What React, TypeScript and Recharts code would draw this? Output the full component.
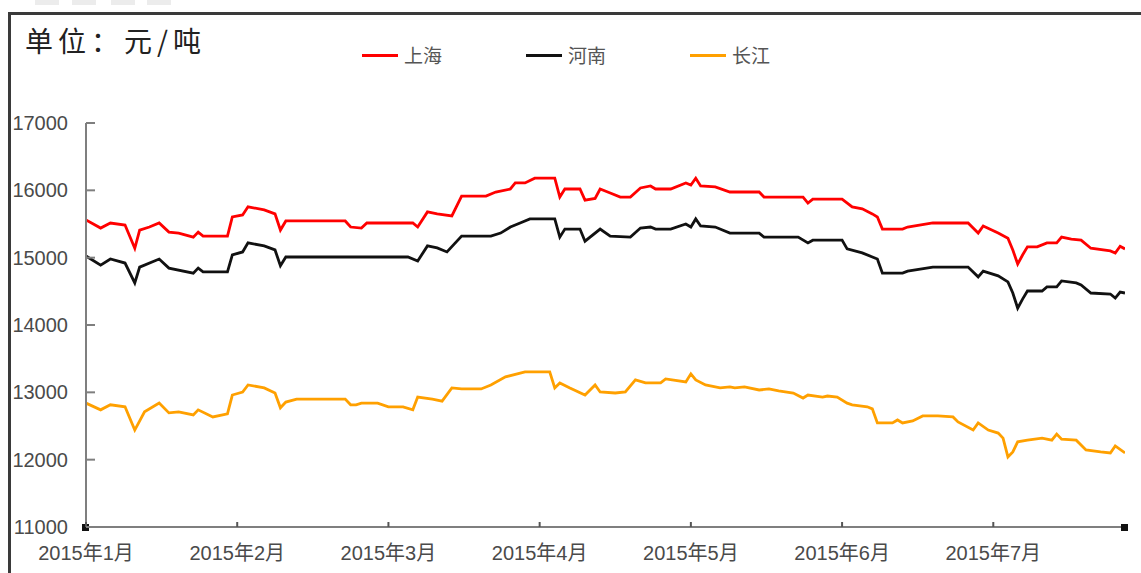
import React from 'react';
import { LineChart, Line, XAxis, YAxis, ReferenceDot } from 'recharts';

// 日期为 "月/日"，值为 元/吨
const shanghai: [string, number][] = [
  ['1/1', 15560], ['1/4', 15440], ['1/6', 15515], ['1/9', 15485], ['1/11', 15140], ['1/12', 15410],
  ['1/14', 15455], ['1/16', 15515], ['1/18', 15380], ['1/20', 15365], ['1/23', 15305], ['1/24', 15380],
  ['1/25', 15320], ['1/30', 15320], ['1/31', 15605], ['2/2', 15635], ['2/3', 15755], ['2/6', 15710],
  ['2/8', 15650], ['2/9', 15410], ['2/10', 15545], ['2/21', 15545], ['2/22', 15455], ['2/24', 15440],
  ['2/25', 15515], ['3/6', 15515], ['3/7', 15455], ['3/9', 15680], ['3/11', 15650], ['3/14', 15620],
  ['3/16', 15915], ['3/21', 15915], ['3/23', 15975], ['3/26', 16020], ['3/27', 16110], ['3/29', 16110],
  ['3/31', 16180], ['4/4', 16180], ['4/5', 15900], ['4/6', 16020], ['4/9', 16020], ['4/10', 15855],
  ['4/12', 15880], ['4/13', 16020], ['4/15', 15960], ['4/17', 15900], ['4/19', 15900], ['4/21', 16035],
  ['4/23', 16065], ['4/24', 16020], ['4/27', 16020], ['4/30', 16110], ['5/1', 16080], ['5/2', 16180],
  ['5/3', 16065], ['5/6', 16050], ['5/9', 15975], ['5/15', 15975], ['5/16', 15900], ['5/24', 15900],
  ['5/25', 15810], ['5/26', 15870], ['6/1', 15870], ['6/3', 15755], ['6/5', 15725], ['6/7', 15650],
  ['6/8', 15605], ['6/9', 15425], ['6/13', 15425], ['6/14', 15455], ['6/19', 15515], ['6/26', 15515],
  ['6/28', 15365], ['6/29', 15470], ['7/2', 15365], ['7/4', 15290], ['7/5', 15115], ['7/6', 14905],
  ['7/7', 15040], ['7/8', 15160], ['7/10', 15160], ['7/12', 15220], ['7/14', 15220], ['7/15', 15305],
  ['7/17', 15275], ['7/19', 15260], ['7/21', 15140], ['7/25', 15100], ['7/26', 15070], ['7/27', 15170],
  ['7/28', 15130],
];

const henan: [string, number][] = [
  ['1/1', 15025], ['1/4', 14890], ['1/6', 14980], ['1/9', 14920], ['1/11', 14625], ['1/12', 14860],
  ['1/16', 14980], ['1/18', 14845], ['1/23', 14770], ['1/24', 14845], ['1/25', 14790], ['1/30', 14790],
  ['1/31', 15040], ['2/2', 15085], ['2/3', 15220], ['2/6', 15175], ['2/8', 15115], ['2/9', 14880],
  ['2/10', 15010], ['3/5', 15010], ['3/7', 14950], ['3/9', 15175], ['3/11', 15145], ['3/13', 15085],
  ['3/16', 15320], ['3/22', 15320], ['3/24', 15365], ['3/26', 15455], ['3/28', 15515], ['3/30', 15575],
  ['4/4', 15575], ['4/5', 15305], ['4/6', 15425], ['4/9', 15425], ['4/10', 15245], ['4/13', 15425],
  ['4/15', 15320], ['4/19', 15305], ['4/21', 15440], ['4/23', 15455], ['4/24', 15425], ['4/27', 15425],
  ['4/30', 15500], ['5/1', 15455], ['5/2', 15575], ['5/3', 15470], ['5/6', 15455], ['5/9', 15365],
  ['5/15', 15365], ['5/16', 15305], ['5/23', 15305], ['5/25', 15220], ['5/26', 15260], ['6/1', 15260],
  ['6/2', 15130], ['6/5', 15070], ['6/8', 14980], ['6/9', 14770], ['6/13', 14770], ['6/14', 14800],
  ['6/19', 14860], ['6/26', 14860], ['6/28', 14715], ['6/29', 14800], ['7/2', 14730], ['7/4', 14640],
  ['7/5', 14475], ['7/6', 14250], ['7/7', 14385], ['7/8', 14505], ['7/11', 14505], ['7/12', 14565],
  ['7/14', 14565], ['7/15', 14655], ['7/18', 14625], ['7/19', 14595], ['7/21', 14475], ['7/25', 14460],
  ['7/26', 14400], ['7/27', 14490], ['7/28', 14475],
];

const changjiang: [string, number][] = [
  ['1/1', 12840], ['1/4', 12740], ['1/6', 12815], ['1/9', 12785], ['1/11', 12440], ['1/13', 12710],
  ['1/16', 12840], ['1/18', 12695], ['1/20', 12710], ['1/23', 12665], ['1/24', 12740], ['1/27', 12635],
  ['1/30', 12680], ['1/31', 12960], ['2/2', 13005], ['2/3', 13110], ['2/6', 13065], ['2/8', 12990],
  ['2/9', 12770], ['2/10', 12855], ['2/12', 12900], ['2/21', 12900], ['2/22', 12815], ['2/23', 12815],
  ['2/24', 12840], ['2/27', 12840], ['3/1', 12785], ['3/4', 12785], ['3/6', 12740], ['3/7', 12930],
  ['3/10', 12900], ['3/12', 12870], ['3/14', 13065], ['3/16', 13050], ['3/20', 13050], ['3/22', 13110],
  ['3/25', 13230], ['3/29', 13305], ['4/3', 13305], ['4/4', 13065], ['4/5', 13140], ['4/7', 13065],
  ['4/10', 12960], ['4/12', 13110], ['4/13', 13005], ['4/16', 12990], ['4/18', 13005], ['4/20', 13185],
  ['4/22', 13140], ['4/25', 13140], ['4/26', 13200], ['4/30', 13155], ['5/1', 13275], ['5/2', 13185],
  ['5/4', 13110], ['5/7', 13065], ['5/9', 13080], ['5/10', 13065], ['5/12', 13080], ['5/15', 13035],
  ['5/17', 13050], ['5/19', 13020], ['5/22', 12990], ['5/24', 12915], ['5/25', 12960], ['5/28', 12930],
  ['5/29', 12945], ['5/31', 12930], ['6/2', 12840], ['6/3', 12815], ['6/6', 12785], ['6/7', 12755],
  ['6/8', 12545], ['6/11', 12545], ['6/12', 12590], ['6/13', 12545], ['6/15', 12575], ['6/17', 12650],
  ['6/20', 12650], ['6/23', 12635], ['6/24', 12560], ['6/27', 12440], ['6/28', 12545], ['6/30', 12440],
  ['7/2', 12395], ['7/3', 12320], ['7/4', 12040], ['7/5', 12115], ['7/6', 12265], ['7/8', 12290],
  ['7/11', 12320], ['7/13', 12290], ['7/14', 12380], ['7/15', 12305], ['7/18', 12290], ['7/20', 12145],
  ['7/23', 12115], ['7/25', 12100], ['7/26', 12205], ['7/28', 12100],
];

const monthDays = [31, 28, 31, 30, 31, 30, 31];
const monthTicks = [0, 1, 2, 3, 4, 5, 6];
const yTicks = [11000, 12000, 13000, 14000, 15000, 16000, 17000];
const lastDate = '7/28';

const series = [
  { name: '上海', color: '#ff0000', points: shanghai },
  { name: '河南', color: '#111111', points: henan },
  { name: '长江', color: '#ffa000', points: changjiang },
];

// 月份轴：每个月等宽
const toX = (d: string) => {
  const [m, day] = d.split('/').map(Number);
  return m - 1 + (day - 1) / monthDays[m - 1];
};

const numFont = '"Liberation Sans", Arial, "Noto Sans CJK SC", sans-serif';
const cjkFont = '"Noto Sans CJK SC", sans-serif';
const xMax = toX(lastDate);

const YTick = ({ x, y, payload }: any) => (
  <g>
    <line x1={x} x2={x + 9} y1={y} y2={y} stroke="#7f7f7f" strokeWidth={2} />
    <text x={x - 18} y={y} dy={7} textAnchor="end" fontSize={20} fill="#4a4a4a" fontFamily={numFont}>
      {payload.value}
    </text>
  </g>
);

const XTick = ({ x, y, payload }: any) => (
  <g>
    <line x1={x} x2={x} y1={y - 5} y2={y} stroke="#555" strokeWidth={2} />
    <text x={x} y={y + 33} textAnchor="middle" fontSize={20} fill="#4a4a4a" fontFamily={numFont}>
      {`2015年${payload.value + 1}月`}
    </text>
  </g>
);

const EndSquare = ({ cx, cy }: any) => <rect x={cx - 4} y={cy - 3} width={7} height={7} fill="#111" />;

export default function App() {
  return (
    <div style={{ position: 'fixed', left: 0, top: 0, width: 1141, height: 573, background: '#fff', overflow: 'hidden' }}>
      {[35, 72, 111, 147].map((l) => (
        <div key={l} style={{ position: 'absolute', left: l, top: 0, width: 24, height: 5, background: '#ececec' }} />
      ))}
      <div
        style={{
          position: 'absolute',
          left: 8,
          top: 12,
          width: 1200,
          height: 700,
          borderTop: '3px solid #3a3a3a',
          borderLeft: '3px solid #3a3a3a',
        }}
      />
      <div
        style={{
          position: 'absolute',
          left: 25,
          top: 22,
          fontSize: 28,
          letterSpacing: 5,
          color: '#222',
          fontFamily: cjkFont,
          lineHeight: '36px',
        }}
      >
        单位：元/吨
      </div>
      <div style={{ position: 'absolute', left: 362, top: 43, display: 'flex', alignItems: 'center' }}>
        {series.map((s) => (
          <div key={s.name} style={{ display: 'flex', alignItems: 'center', marginRight: 84 }}>
            <div style={{ width: 36, height: 3, background: s.color }} />
            <span style={{ marginLeft: 6, fontSize: 19, color: '#555', fontFamily: cjkFont, lineHeight: '24px' }}>
              {s.name}
            </span>
          </div>
        ))}
      </div>
      <div style={{ position: 'absolute', left: 0, top: 0 }}>
        <LineChart width={1141} height={573} margin={{ top: 123, right: 16, left: 0, bottom: 0 }}>
          <XAxis
            type="number"
            dataKey="x"
            domain={[0, xMax]}
            ticks={monthTicks}
            height={46}
            tickSize={0}
            tickMargin={0}
            tick={<XTick />}
            axisLine={{ stroke: '#7f7f7f', strokeWidth: 2 }}
            allowDataOverflow
          />
          <YAxis
            type="number"
            domain={[11000, 17000]}
            ticks={yTicks}
            width={86}
            tickSize={0}
            tickMargin={0}
            tick={<YTick />}
            axisLine={{ stroke: '#7f7f7f', strokeWidth: 2 }}
          />
          {series.map((s) => (
            <Line
              key={s.name}
              data={s.points.map(([d, v]) => ({ x: toX(d), v }))}
              dataKey="v"
              name={s.name}
              type="linear"
              stroke={s.color}
              strokeWidth={2.8}
              dot={false}
              isAnimationActive={false}
            />
          ))}
          <ReferenceDot x={0} y={11000} r={4} shape={<EndSquare />} ifOverflow="visible" />
          <ReferenceDot x={xMax} y={11000} r={4} shape={<EndSquare />} ifOverflow="visible" />
        </LineChart>
      </div>
    </div>
  );
}
